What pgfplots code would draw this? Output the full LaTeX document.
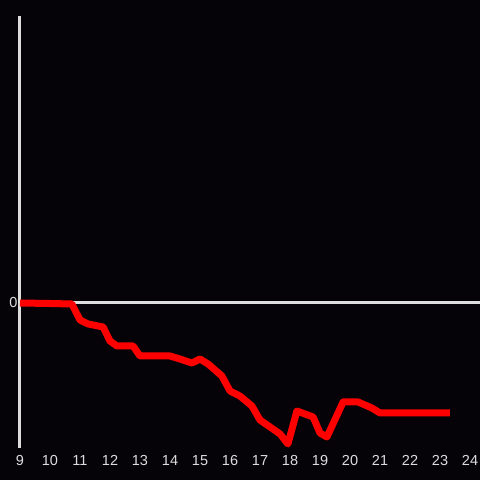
\documentclass[border=0pt]{standalone}
\usepackage{pgfplots}
\pgfplotsset{compat=1.18}
\usepackage{fontspec}
\setmainfont{Liberation Sans}
\definecolor{bg}{RGB}{5,3,8}
\definecolor{lg}{RGB}{221,221,221}
\begin{document}
\begin{tikzpicture}[x=1pt,y=1pt]
\useasboundingbox (0,0) rectangle (480,480);
\fill[bg] (0,0) rectangle (480,480);
\begin{axis}[
  at={(20pt,32pt)}, anchor=south west,
  scale only axis, width=460pt, height=432pt,
  xmin=9, xmax=24.333, ymin=-145, ymax=287,
  axis lines=left,
  x axis line style={draw=none},
  y axis line style={lg, line width=3pt, -},
  xtick={9,...,24}, ytick={0},
  major tick length=0pt,
  tick label style={lg, font=\fontsize{14.5}{16}\selectfont},
  /pgf/number format/assume math mode=true,
  xticklabel style={yshift=-4pt},
  yticklabel style={xshift=1pt},
  clip=false,
]
\addplot[lg, line width=3pt] coordinates {(9,0) (24.333,0)};
\addplot[red, line width=7pt, line join=round, line cap=butt] coordinates {
(9,0)
(10,-0.5)
(10.73,-1)
(11,-17)
(11.27,-21)
(11.77,-24)
(12,-38)
(12.23,-43)
(12.77,-43)
(13,-53)
(14,-53)
(14.33,-56)
(14.73,-60)
(15,-56)
(15.27,-61)
(15.73,-73)
(16,-88)
(16.33,-93)
(16.73,-103)
(17,-117)
(17.67,-131)
(17.93,-141)
(18.23,-108)
(18.77,-114)
(19,-130)
(19.23,-134)
(19.77,-99)
(20.27,-99)
(20.73,-105)
(21,-110)
(23.33,-110)
};
\end{axis}
\end{tikzpicture}
\end{document}
